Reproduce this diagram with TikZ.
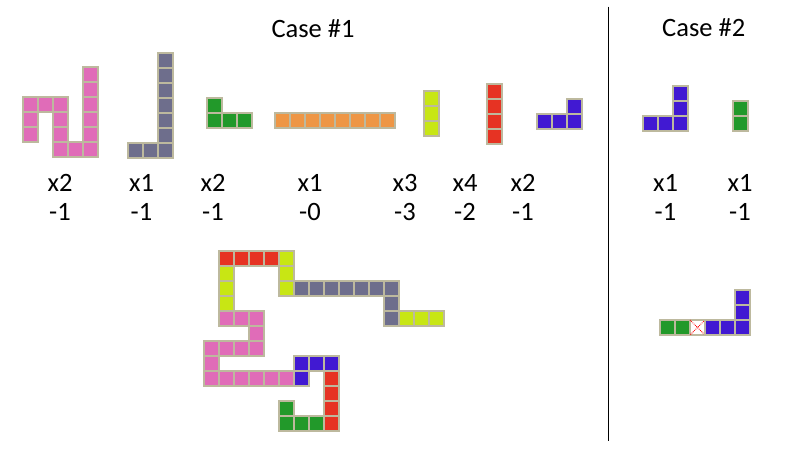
\documentclass[tikz,border=0pt]{standalone}
\usepackage{fontspec}
\setmainfont{Carlito}
\definecolor{cpink}{HTML}{E06CB8}
\definecolor{cgray}{HTML}{6E6E8C}
\definecolor{cgreen}{HTML}{22992A}
\definecolor{corange}{HTML}{EE9645}
\definecolor{cyellow}{HTML}{C8E614}
\definecolor{cred}{HTML}{E63323}
\definecolor{cblue}{HTML}{4119D2}
\definecolor{cborder}{HTML}{BDB99E}
\tikzset{
  cellbox/.style={draw=cborder, line width=1.1pt},
  lbl/.style={font=\fontsize{26.5}{30}\selectfont, anchor=base, inner sep=0pt},
}
\newcommand\blocks[2]{\foreach \x/\y in {#2} \filldraw[cellbox,fill=#1] (\x,\y) rectangle ++(15,15);}
\newcommand\gblocks[2]{\foreach \c/\r in {#2} \filldraw[cellbox,fill=#1] ({204+15*\c},{251+15*\r}) rectangle ++(15,15);}
\begin{document}
\begin{tikzpicture}[x=1pt,y=-1pt]
\useasboundingbox (0,0) rectangle (797,452);
% titles
\node[lbl] (t1) at (313,37.3) {Case \#1};
\node[lbl] (t2) at (703.7,36.7) {Case \#2};
% divider
\coordinate (dtop) at (608.3,6.7);
\coordinate (dbot) at (608.3,440.7);
\draw[line width=1.2pt] (dtop) -- (dbot);
% case 1 pieces
\blocks{cpink}{83/67,83/82,23/97,38/97,53/97,83/97,23/112,53/112,83/112,23/127,53/127,83/127,53/142,68/142,83/142}
\blocks{cgray}{158/53,158/68,158/83,158/98,158/113,158/128,128/143,143/143,158/143}
\blocks{cgreen}{207/98,207/113,222/113,237/113}
\blocks{corange}{275/113,290/113,305/113,320/113,335/113,350/113,365/113,380/113}
\blocks{cyellow}{424/91,424/106,424/121}
\blocks{cred}{487/84,487/99,487/114,487/129}
\blocks{cblue}{567/99,537/114,552/114,567/114}
% case 2 pieces
\blocks{cblue}{673/86,673/101,643/116,658/116,673/116}
\blocks{cgreen}{733/101,733/116}
% labels case 1
\foreach \px/\a/\b [count=\i] in {60/x2/-1,141.5/x1/-1,213/x2/-1,310/x1/-0,405/x3/-3,465/x4/-2,523/x2/-1}{
  \node[lbl] (m\i) at (\px,191.7) {\a};
  \node[lbl] (s\i) at (\px,220) {\b};
}
% labels case 2
\node[lbl] (m8) at (665.5,191.7) {x1};
\node[lbl] (s8) at (665.5,220) {-1};
\node[lbl] (m9) at (740,191.7) {x1};
\node[lbl] (s9) at (740,220) {-1};
% assembly case 1
\gblocks{cred}{1/0,2/0,3/0,4/0}
\gblocks{cyellow}{5/0,5/1,5/2}
\gblocks{cgray}{6/2,7/2,8/2,9/2,10/2,11/2,12/2,12/3,12/4}
\gblocks{cyellow}{13/4,14/4,15/4}
\gblocks{cyellow}{1/1,1/2,1/3}
\gblocks{cpink}{1/4,2/4,3/4,3/5,0/6,1/6,2/6,3/6,0/7,0/8,1/8,2/8,3/8,4/8,5/8}
\gblocks{cblue}{6/7,7/7,8/7,6/8}
\gblocks{cred}{8/8,8/9,8/10,8/11}
\gblocks{cgreen}{5/10,5/11,6/11,7/11}
% assembly case 2
\blocks{cgreen}{660/320,675/320}
\filldraw[cellbox,fill=white] (690,320) rectangle ++(15,15);
\draw[red, densely dotted, line width=0.8pt] (690,320) -- (705,335) (705,320) -- (690,335);
\blocks{cblue}{705/320,720/320,735/320,735/305,735/290}
\end{tikzpicture}
\end{document}
